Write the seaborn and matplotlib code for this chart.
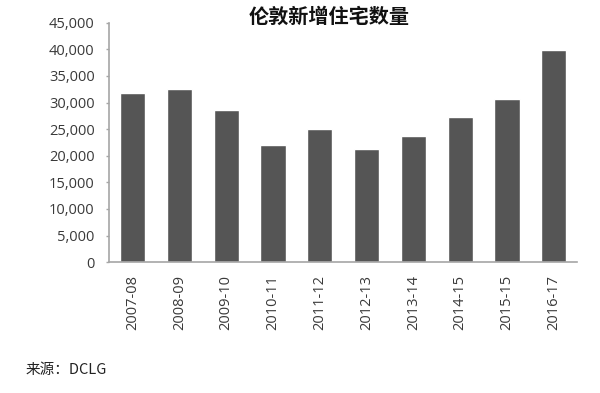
import matplotlib
matplotlib.use("Agg")
import matplotlib.pyplot as plt
import seaborn as sns
import pandas as pd
from matplotlib.ticker import FuncFormatter

categories = ["2007-08", "2008-09", "2009-10", "2010-11", "2011-12",
              "2012-13", "2013-14", "2014-15", "2015-15", "2016-17"]
values = [31800, 32600, 28600, 22000, 25100, 21200, 23800, 27200, 30700, 39800]
yticks = [0, 5000, 10000, 15000, 20000, 25000, 30000, 35000, 40000, 45000]
title = "伦敦新增住宅数量"
source = "来源：DCLG"

sns.set_theme(style="white")
plt.rcParams['font.family'] = ['Open Sans', 'Noto Sans CJK SC', 'DejaVu Sans']

df = pd.DataFrame({"period": categories, "homes": values})

fig = plt.figure(figsize=(6, 3.93), dpi=100)
ax = fig.add_axes([0.182, 0.333, 0.78, 0.609])
sns.barplot(data=df, x="period", y="homes", color="#555555", saturation=1,
            width=0.54, ax=ax)

ax.set_ylim(0, 45000)
ax.set_yticks(yticks)
ax.yaxis.set_major_formatter(FuncFormatter(lambda v, p: f"{int(v):,}"))
ax.set_xlabel("")
ax.set_ylabel("")
for s in ["top", "right"]:
    ax.spines[s].set_visible(False)
for s in ["left", "bottom"]:
    ax.spines[s].set_color("#a6a6a6")
    ax.spines[s].set_linewidth(1.2)
ax.tick_params(axis="y", left=True, length=2.5, width=1, color="#a6a6a6",
               labelsize=10.5, labelcolor="#3a3a3a", pad=8)
ax.tick_params(axis="x", bottom=False, labelsize=10.5, labelcolor="#3a3a3a",
               rotation=90, pad=3)
ax.set_xlim(-0.5, len(categories) - 0.5)

fig.text(0.548, 0.959, title, ha="center", va="center", fontsize=14.5,
         fontweight="bold", color="#111111",
         family=['Noto Sans CJK SC', 'DejaVu Sans'])
fig.text(0.042, 0.058, source, ha="left", va="center", fontsize=10.5,
         color="#222222", family=['Noto Sans CJK SC', 'DejaVu Sans'])

fig.savefig("out.png", dpi=100)
